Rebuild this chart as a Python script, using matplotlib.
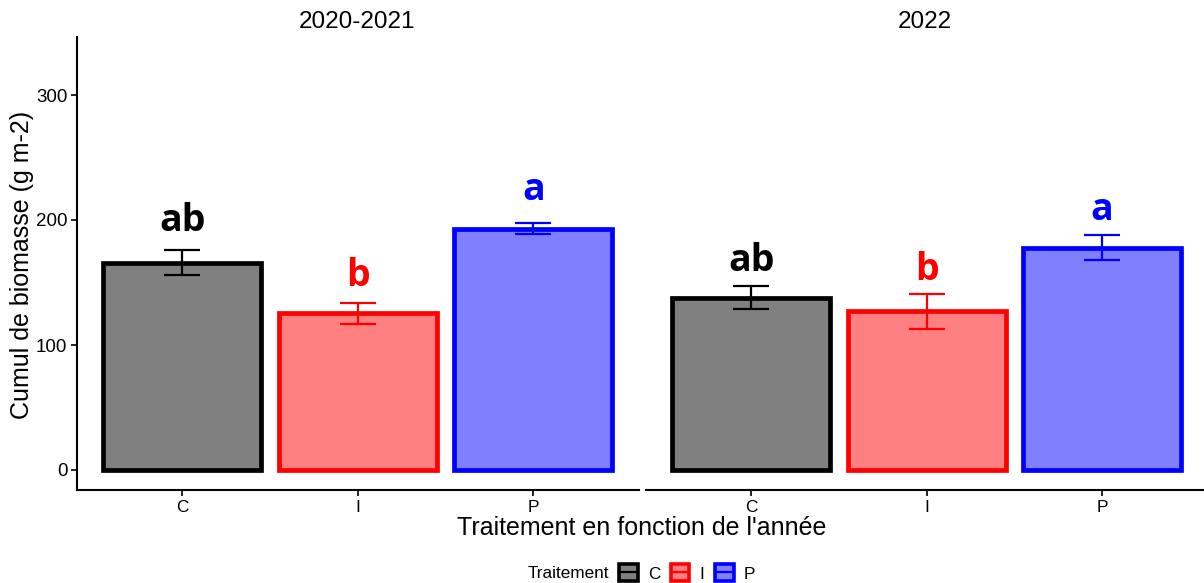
import matplotlib
matplotlib.use("Agg")
import matplotlib.pyplot as plt
from matplotlib.patches import Patch
from matplotlib.lines import Line2D
from matplotlib.legend_handler import HandlerTuple

plt.rcParams['font.family'] = ['Liberation Sans', 'DejaVu Sans']

# ---- data ----
panels = ["2020-2021", "2022"]
treatments = ["C", "I", "P"]
means_2020 = [166, 125.5, 193]
se_2020 = [10.2, 8.4, 4.4]
letters_2020 = ["ab", "b", "a"]
letter_y_2020 = [191, 147, 216]
means_2022 = [138, 127, 178]
se_2022 = [9.3, 13.8, 10]
letters_2022 = ["ab", "b", "a"]
letter_y_2022 = [159, 152, 200]
yticks = [0, 100, 200, 300]

fill_colors = ["#808080", "#FF8080", "#8080FF"]
edge_colors = ["#000000", "#FF0000", "#0000FF"]

W, H = 1204, 583
fig = plt.figure(figsize=(W / 100, H / 100), dpi=100)

def fx(px):
    return px / W

def fy(py):
    return 1 - py / H

ax_bottom = fy(490)
ax_h = (490 - 37) / H
ax1 = fig.add_axes([fx(77), ax_bottom, 561.6 / W, ax_h])
ax2 = fig.add_axes([fx(646), ax_bottom, 558 / W, ax_h])

data = [(ax1, means_2020, se_2020, letters_2020, letter_y_2020),
        (ax2, means_2022, se_2022, letters_2022, letter_y_2022)]

for ax, means, ses, letters, ly in data:
    x = list(range(len(treatments)))
    ax.bar(x, means, width=0.9, color=fill_colors, edgecolor=edge_colors,
           linewidth=3.4, zorder=2)
    for i in x:
        ax.errorbar(i, means[i], yerr=ses[i], fmt='none', ecolor=edge_colors[i],
                    elinewidth=1.6, capsize=13, capthick=1.6, zorder=3)
        ax.text(i, ly[i], letters[i], ha='center', va='baseline',
                fontsize=27, fontweight='bold', color=edge_colors[i],
                family=['Open Sans', 'DejaVu Sans'], zorder=4)
    ax.set_ylim(-16, 346.4)
    ax.set_xticks(x)
    ax.set_xticklabels(treatments, fontsize=12.5)
    for s in ['top', 'right']:
        ax.spines[s].set_visible(False)
    ax.spines['bottom'].set_linewidth(1.5)
    ax.spines['left'].set_linewidth(1.5)
    ax.tick_params(axis='x', length=4, width=1.2, pad=3)
    ax.set_facecolor('none')

ax1.set_xlim(-0.6, 2.6)
ax2.set_xlim(-0.6, 2.58)
ax1.set_yticks(yticks)
ax1.set_yticklabels([str(t) for t in yticks], fontsize=13.5)
ax1.tick_params(axis='y', length=4, width=1.2, pad=3)
ax2.spines['left'].set_visible(False)
ax2.set_yticks([])

# strip titles
fig.text(fx(357.5), fy(22), panels[0], ha='center', va='center', fontsize=17.5)
fig.text(fx(925), fy(22), panels[1], ha='center', va='center', fontsize=17.5)

# axis titles
fig.text(fx(22), fy(265), "Cumul de biomasse (g m-2)", rotation=90,
         ha='center', va='center', fontsize=18)
fig.text(fx(642), fy(528), "Traitement en fonction de l'année",
         ha='center', va='center', fontsize=18)

# legend
fig.text(fx(609), fy(573), "Traitement", ha='right', va='center', fontsize=12.3)
handles = []
for fc, ec in zip(fill_colors, edge_colors):
    p = Patch(facecolor=fc, edgecolor=ec, linewidth=2.6)
    l = Line2D([], [], color=ec, linewidth=1.6)
    handles.append((p, l))
leg = fig.legend(handles, treatments, loc='center left',
                 bbox_to_anchor=(fx(619), fy(573)), ncol=3, frameon=False,
                 fontsize=12.3, handlelength=1.1, handleheight=1.1,
                 handletextpad=0.6, columnspacing=0.6, borderaxespad=0,
                 borderpad=0,
                 handler_map={tuple: HandlerTuple(ndivide=1)})

fig.savefig("out.png", dpi=100)
